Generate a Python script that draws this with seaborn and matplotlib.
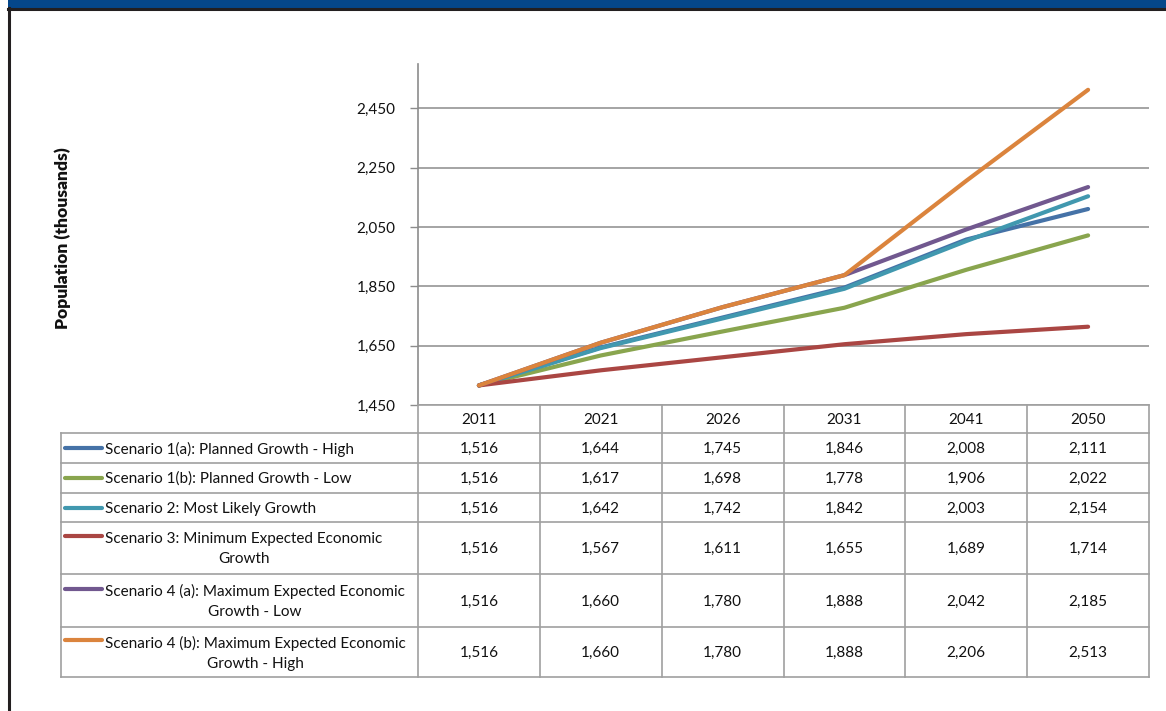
import matplotlib
matplotlib.use("Agg")
import matplotlib.pyplot as plt
import seaborn as sns
import pandas as pd
from matplotlib.lines import Line2D
from matplotlib.patches import Rectangle

# ---- data -------------------------------------------------------------
years = ["2011", "2021", "2026", "2031", "2041", "2050"]
scenarios = [
    "Scenario 1(a): Planned Growth - High",
    "Scenario 1(b): Planned Growth - Low",
    "Scenario 2: Most Likely Growth",
    "Scenario 3: Minimum Expected Economic\nGrowth",
    "Scenario 4 (a): Maximum Expected Economic\nGrowth - Low",
    "Scenario 4 (b): Maximum Expected Economic\nGrowth - High",
]
s1a = [1516, 1644, 1745, 1846, 2008, 2111]
s1b = [1516, 1617, 1698, 1778, 1906, 2022]
s2 = [1516, 1642, 1742, 1842, 2003, 2154]
s3 = [1516, 1567, 1611, 1655, 1689, 1714]
s4a = [1516, 1660, 1780, 1888, 2042, 2185]
s4b = [1516, 1660, 1780, 1888, 2206, 2513]
series = [s1a, s1b, s2, s3, s4a, s4b]
colors = ["#4572A7", "#89A54E", "#4198AF", "#AA4643", "#71588F", "#DB843D"]
y_ticks = [1450, 1650, 1850, 2050, 2250, 2450]

# ---- figure -------------------------------------------------------------
W, H = 1166, 711
fig = plt.figure(figsize=(W / 100, H / 100), dpi=100)
font = ["Lato", "DejaVu Sans"]
plt.rcParams["font.family"] = font
fs = 11

rows = []
for name, vals in zip(scenarios, series):
    for i, v in enumerate(vals):
        rows.append({"idx": i, "value": v, "scenario": name})
df = pd.DataFrame(rows)

ax_l, ax_r, ax_t, ax_b = 418, 1149, 64, 405
ax = fig.add_axes([ax_l / W, 1 - ax_b / H, (ax_r - ax_l) / W, (ax_b - ax_t) / H])
sns.lineplot(data=df, x="idx", y="value", hue="scenario", hue_order=scenarios,
             palette=colors, linewidth=3.0, sort=False, legend=False, ax=ax,
             solid_capstyle="round", solid_joinstyle="round")
ax.set_xlim(-0.5, len(years) - 0.5)
ax.set_ylim(1450, 2600)
ax.set_yticks(y_ticks)
ax.set_yticklabels([f"{v:,}" for v in y_ticks], fontsize=fs, color="#111111")
ax.tick_params(axis="y", length=6, width=1, color="#8C8C8C", pad=10)
ax.set_xticks([])
ax.set_xlabel("")
ax.set_ylabel("")
ax.grid(axis="y", color="#959595", linewidth=1.2)
ax.set_axisbelow(True)
for side in ["top", "right", "bottom"]:
    ax.spines[side].set_visible(False)
ax.spines["left"].set_color("#8C8C8C")
ax.spines["left"].set_linewidth(1.2)

fig.text(63 / W, 1 - 238 / H, "Population (thousands)", rotation=90,
         ha="center", va="center", fontsize=12.5, fontweight="heavy", color="#111111")

# ---- data table -----------------------------------------------------------
ov = fig.add_axes([0, 0, 1, 1])
ov.set_xlim(0, W)
ov.set_ylim(H, 0)
ov.axis("off")
ov.patch.set_alpha(0)

grid_c = "#A0A0A0"
tbl_left = 61
col_w = (ax_r - ax_l) / len(years)
col_x = [ax_l + col_w * i for i in range(len(years) + 1)]
row_y = [405, 433, 463, 493, 522, 574, 627, 677]

# horizontal rules
ov.add_line(Line2D([ax_l, ax_r], [row_y[0], row_y[0]], color=grid_c, lw=1.2))
for y in row_y[1:]:
    ov.add_line(Line2D([tbl_left, ax_r], [y, y], color=grid_c, lw=1.2))
# vertical rules
ov.add_line(Line2D([tbl_left, tbl_left], [row_y[1], row_y[-1]], color=grid_c, lw=1.2))
for x in col_x:
    ov.add_line(Line2D([x, x], [row_y[0], row_y[-1]], color=grid_c, lw=1.2))

for j, yr in enumerate(years):
    ov.text((col_x[j] + col_x[j + 1]) / 2, (row_y[0] + row_y[1]) / 2 + 1, yr,
            ha="center", va="center", fontsize=fs, color="#111111")

for i, (name, vals, c) in enumerate(zip(scenarios, series, colors)):
    yc = (row_y[i + 1] + row_y[i + 2]) / 2
    ov.add_line(Line2D([65, 102], [yc if "\n" not in name else yc - 12] * 2,
                       color=c, lw=3.0, solid_capstyle="round"))
    ov.text(105, yc + 1, name, ha="left", va="center", multialignment="center",
            fontsize=fs, color="#111111", linespacing=1.55)
    for j, v in enumerate(vals):
        ov.text((col_x[j] + col_x[j + 1]) / 2, yc + 1, f"{v:,}",
                ha="center", va="center", fontsize=fs, color="#111111")

# ---- frame ------------------------------------------------------------------
ov.add_patch(Rectangle((8, 0), W - 8, 7.5, color="#05478A", lw=0))
ov.add_line(Line2D([8, W], [9, 9], color="#231F20", lw=2.2))
ov.add_line(Line2D([9, 9], [8, H], color="#231F20", lw=2.2))

fig.savefig("out.png", dpi=100, facecolor="white")
